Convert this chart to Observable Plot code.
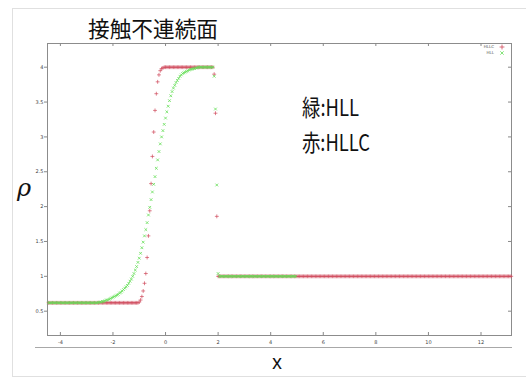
<!DOCTYPE html>
<html>
<head>
<meta charset="utf-8">
<script src="https://cdn.jsdelivr.net/npm/d3@7"></script>
<script src="https://cdn.jsdelivr.net/npm/@observablehq/plot@0.6"></script>
<style>
  html, body { margin: 0; padding: 0; background: #fff; }
  #chart { width: 526px; height: 381px; overflow: hidden; }
</style>
</head>
<body>
<div id="chart"></div>
<script>
// ---- data ----
const titleText = "接触不連続面";
const seriesNames = ["HLLC", "HLL"];
const noteLines = ["緑:HLL", "赤:HLLC"];
const xStart = -4.45;   // first cell centre
const xStep = 0.05;     // mesh spacing
const xTicks = [-4, -2, 0, 2, 4, 6, 8, 10, 12];
const yTicks = [0.5, 1, 1.5, 2, 2.5, 3, 3.5, 4];

// HLLC density (red +)
const hllcRho = [
  0.62,0.62,0.62,0.62,0.62,0.62,0.62,0.62,0.62,0.62,0.62,0.62,0.62,0.62,0.62,0.62,0.62,0.62,0.62,0.62,0.62,0.62,0.62,
  0.62,0.62,0.62,0.62,0.62,0.62,0.62,0.62,0.62,0.62,0.62,0.62,0.62,0.62,0.62,0.62,0.62,0.62,0.62,0.62,0.62,0.62,0.62,
  0.62,0.62,0.62,0.62,0.62,0.62,0.62,0.62,0.62,0.62,0.62,0.62,0.62,0.62,0.62,0.62,0.62,0.62,0.62,0.62,0.62,0.62,0.62,
  0.63,0.66,0.71,0.79,0.90,1.04,1.27,1.58,1.94,2.33,2.72,3.07,3.38,3.62,3.79,3.89,3.95,3.98,3.99,
  4,4,4,4,4,4,4,4,4,4,4,4,4,4,4,4,4,4,4,
  4,4,4,4,4,4,4,4,4,4,4,4,4,4,4,4,4,4,4,
  3.90,3.34,1.86,
  1,1,1,1,1,1,1,1,1,1,1,1,1,1,1,1,1,1,1,1,1,1,1,1,1,1,1,1,1,1,1,1,
  1,1,1,1,1,1,1,1,1,1,1,1,1,1,1,1,1,1,1,1,1,1,1,1,1,1,1,1,1,1,1,1,
  1,1,1,1,1,1,1,1,1,1,1,1,1,1,1,1,1,1,1,1,1,1,1,1,1,1,1,1,1,1,1,1,
  1,1,1,1,1,1,1,1,1,1,1,1,1,1,1,1,1,1,1,1,1,1,1,1,1,1,1,1,1,1,1,1,
  1,1,1,1,1,1,1,1,1,1,1,1,1,1,1,1,1,1,1,1,1,1,1,1,1,1,1,1,1,1,1,1,
  1,1,1,1,1,1,1,1,1,1,1,1,1,1,1,1,1,1,1,1,1,1,1,1,1,1,1,1,1,1,1,1,
  1,1,1,1,1,1,1,1,1,1,1,1,1,1,1,1,1,1,1,1,1,1,1,1,1,1,1,1,1,1,1,1
];

// HLL density (green x)
const hllRho = [
  0.62,0.62,0.62,0.62,0.62,0.62,0.62,0.62,0.62,0.62,0.62,0.62,0.62,0.62,0.62,0.62,0.62,0.62,0.62,
  0.62,0.62,0.62,0.62,0.62,0.62,0.62,0.62,0.62,0.62,0.62,0.62,0.62,0.62,0.62,0.62,0.62,0.62,
  0.62,0.625,0.63,0.63,0.64,0.64,0.65,0.66,0.66,0.67,0.68,0.69,0.70,
  0.71,0.72,0.73,0.74,0.76,0.77,0.79,0.81,0.83,0.85,0.87,0.90,0.93,0.96,1.00,1.04,1.09,1.14,1.20,1.26,
  1.33,1.41,1.49,1.58,1.67,1.77,1.88,1.99,2.10,2.21,2.32,2.43,2.55,2.67,2.79,2.90,3.00,3.09,3.18,3.27,
  3.36,3.44,3.52,3.59,3.65,3.70,3.74,3.78,3.81,3.84,3.87,3.89,3.91,3.92,3.93,3.94,3.95,3.96,3.97,3.97,
  3.98,3.98,3.99,3.99,
  4,4,4,4,4,4,4,4,4,4,4,4,
  3.87,3.40,2.31,1.04,
  1,1,1,1,1,1,1,1,1,1,1,1,1,1,1,1,1,1,1,1,1,1,1,1,1,1,1,1,1,1,
  1,1,1,1,1,1,1,1,1,1,1,1,1,1,1,1,1,1,1,1,1,1,1,1,1,1,1,1,1
];

const red = "#d04a5c";
const green = "#66de58";

const toRows = (arr, name) => arr.map((v, i) => ({x: +(xStart + i * xStep).toFixed(2), rho: v, series: name}));
const hllc = toRows(hllcRho, seriesNames[0]);
const hll = toRows(hllRho, seriesNames[1]);

const W = 526, H = 381;
const mL = 47, mR = 15, mT = 43, mB = 46;
const innerW = W - mL - mR, innerH = H - mT - mB;

const chart = Plot.plot({
  width: W, height: H,
  marginLeft: mL, marginRight: mR, marginTop: mT, marginBottom: mB,
  style: {fontFamily: "DejaVu Sans, sans-serif", background: "#fff", overflow: "visible"},
  x: {domain: [-4.49, 13.16], label: null},
  y: {domain: [0.151, 4.34], label: null},
  marks: [
    Plot.frame({stroke: "#8c8c8c", strokeWidth: 1}),
    Plot.axisX({ticks: xTicks, tickSize: 0, tickPadding: 5, fontSize: 5, fill: "#444", tickFormat: d => String(d), label: null}),
    Plot.axisY({ticks: yTicks, tickSize: 3, tickPadding: 1, fontSize: 5, fill: "#444", stroke: "#888", tickFormat: d => String(d), label: null}),
    Plot.ruleX(xTicks, {x: d => d, insetBottom: innerH - 3, stroke: "#888"}),
    Plot.ruleX(xTicks, {x: d => d, insetTop: innerH - 3, stroke: "#888"}),
    Plot.ruleY(yTicks, {y: d => d, insetLeft: innerW - 3, stroke: "#888"}),
    Plot.dot(hllc, {x: "x", y: "rho", symbol: "plus", r: 1.35, stroke: red, strokeWidth: 0.7}),
    Plot.dot(hll, {x: "x", y: "rho", symbol: "times", r: 1.35, stroke: green, strokeWidth: 0.8})
  ]
});

document.getElementById("chart").appendChild(chart);

// ---- annotations (text and page decoration) ----
const svg = d3.select(chart);
const deco = svg.insert("g", ":first-child");
deco.append("line").attr("x1", 12).attr("x2", W).attr("y1", 8.5).attr("y2", 8.5).attr("stroke", "#e0e0e0");
deco.append("line").attr("x1", 12.5).attr("x2", 12.5).attr("y1", 8).attr("y2", 377).attr("stroke", "#e0e0e0");
deco.append("line").attr("x1", 12).attr("x2", W).attr("y1", 376.5).attr("y2", 376.5).attr("stroke", "#e0e0e0");
svg.append("line").attr("x1", 35).attr("x2", 512).attr("y1", 347.5).attr("y2", 347.5).attr("stroke", "#a8a8a8");

const cjk = "'Noto Sans CJK JP', 'Noto Sans CJK SC', sans-serif";
const addText = (x, y, txt, opts = {}) => {
  const t = svg.append("text")
    .attr("x", x).attr("y", y)
    .attr("text-anchor", opts.anchor || "start")
    .attr("font-family", opts.family || cjk)
    .attr("font-size", opts.size || 22)
    .attr("font-style", opts.style || "normal")
    .attr("fill", "#111")
    .text(txt);
  if (opts.len) t.attr("textLength", opts.len).attr("lengthAdjust", "spacingAndGlyphs");
  return t;
};

addText(88, 37, titleText, {size: 22, len: 130});
addText(302, 116, noteLines[0], {size: 23, len: 57});
addText(302, 151, noteLines[1], {size: 23, len: 68});
addText(17, 196, "ρ", {family: "DejaVu Serif, serif", style: "italic", size: 24});
addText(277, 369, "x", {anchor: "middle", family: "'Noto Sans', sans-serif", size: 19});

// legend (top right inside frame)
const leg = svg.append("g");
const legColors = [red, green];
const legSymbols = [d3.symbolPlus, d3.symbolTimes];
seriesNames.forEach((name, i) => {
  const y = 47 + i * 6;
  leg.append("text").attr("x", 494).attr("y", y).attr("dy", "0.35em").attr("text-anchor", "end")
    .attr("font-family", "DejaVu Sans, sans-serif").attr("font-size", 4).attr("fill", "#555").text(name);
  leg.append("path").attr("transform", `translate(502,${y})`).attr("d", d3.symbol(legSymbols[i], 9)())
    .attr("fill", "none").attr("stroke", legColors[i]).attr("stroke-width", 0.8);
});
</script>
</body>
</html>
